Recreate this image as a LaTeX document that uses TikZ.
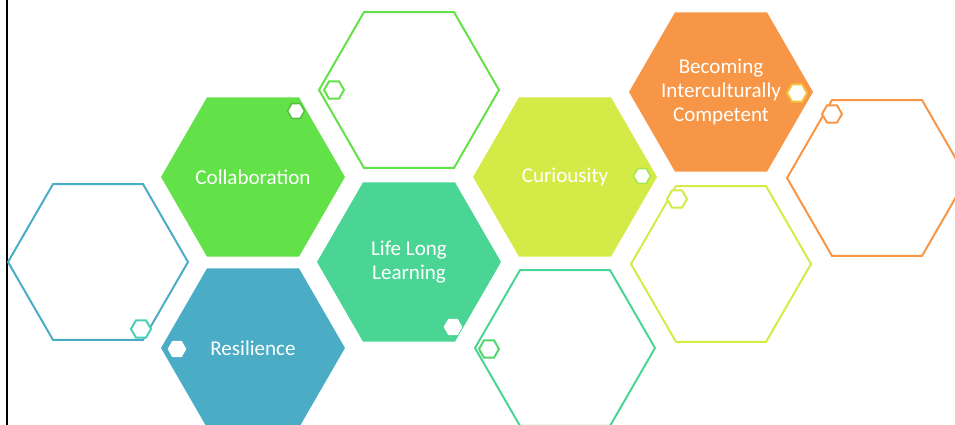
\documentclass[tikz,border=0pt]{standalone}
\usepackage{fontspec}
\setmainfont{Carlito}
\usetikzlibrary{shapes.geometric}
\usetikzlibrary{positioning}

\definecolor{hexGreen}{HTML}{62E148}
\definecolor{hexBlue}{HTML}{4BACC6}
\definecolor{hexTeal}{HTML}{4AD594}
\definecolor{hexLime}{HTML}{D4EB47}
\definecolor{hexOrange}{HTML}{F79646}
\definecolor{dotTeal}{HTML}{4ACFB8}
\definecolor{dotGreen}{HTML}{55D66C}
\definecolor{dotLime}{HTML}{A8E650}
\definecolor{dotYellow}{HTML}{F0C43C}

\begin{document}
\begin{tikzpicture}[
    x=0.02cm, y=-0.02cm,
    every node/.style={font=\fontsize{12}{13.6}\selectfont},
    hexfill/.style={regular polygon, regular polygon sides=6, minimum size=3.68cm, inner sep=-0.6cm, outer sep=0pt, text=white, align=center},
    hexline/.style={regular polygon, regular polygon sides=6, minimum size=3.6cm, inner sep=0pt, line width=0.04cm},
    dotfill/.style={regular polygon, regular polygon sides=6, minimum size=0.34cm, inner sep=0pt, fill=white, line width=0.03cm},
    dotline/.style={regular polygon, regular polygon sides=6, minimum size=0.4cm, inner sep=0pt, fill=white, line width=0.04cm}
]
\useasboundingbox (0,0) rectangle (955,425);

% Left border
\draw[line width=0.06cm] (7,0) -- (7,425);

% Outline hexagons
\node[hexline, draw=hexBlue] (blueOut) at (98,262) {};
\node[hexline, draw=hexGreen] (greenOut) at (409,90) {};
\node[hexline, draw=hexTeal] (tealOut) at (565,348) {};
\node[hexline, draw=hexLime] (limeOut) at (721,264) {};
\node[hexline, draw=hexOrange] (orangeOut) at (877,178) {};

% Filled hexagons
\node[hexfill, fill=hexGreen] (collab) at (253,177) {Collaboration};
\node[hexfill, fill=hexBlue] (resil) at (253,348) {Resilience};
\node[hexfill, fill=hexTeal] (life) at (409,262) {Life Long\\Learning};
\node[hexfill, fill=hexLime] (curio) at (565,177) {Curiousity};
\node[hexfill, fill=hexOrange] (becoming) at (721,92) {Becoming\\Interculturally\\Competent};

% Small hexagons
\node[dotfill, draw=hexGreen!85!black] (collabDot) at (296,111) {};
\node[dotfill, draw=white] (resilDot) at (177,349) {};
\node[dotfill, draw=white] (lifeDot) at (453,327) {};
\node[dotfill, draw=dotLime] (curioDot) at (642,176) {};
\node[dotline, draw=dotYellow] (becomingDot) at (797,93) {};
\node[dotline, draw=dotTeal] (blueOutDot) at (141,329) {};
\node[dotline, draw=hexGreen] (greenOutDot) at (334,90) {};
\node[dotline, draw=dotGreen] (tealOutDot) at (489,349) {};
\node[dotline, draw=hexLime] (limeOutDot) at (677,199) {};
\node[dotline, draw=hexOrange] (orangeOutDot) at (832,114) {};

\end{tikzpicture}
\end{document}
